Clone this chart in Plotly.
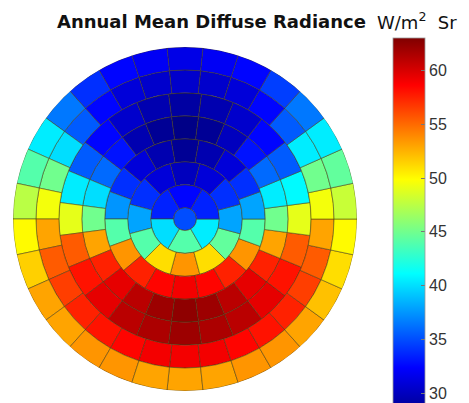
import plotly.graph_objects as go

# ---- data ----
title_text = "Annual Mean Diffuse Radiance"
unit_text = "W/m<sup>2</sup>&nbsp;&nbsp;Sr"

# zenith-angle band edges (degrees) of the Tregenza sky subdivision
zenith_edges = [0, 6, 18, 30, 42, 54, 66, 78, 90]

# patch values per band, index k at azimuth k*360/n measured from the bottom,
# going counter-clockwise (right side first)
cap_value = [35]
ring1 = [44, 40.5, 33.5, 32.5, 33.5, 40]
ring2 = [53.5, 51, 44.5, 38, 34, 31, 30, 31, 34, 38, 44, 51]
ring3 = [59, 58.5, 57.5, 53.5, 44, 38, 34, 31, 29.5, 28.5,
         29.5, 31, 34, 37.5, 44, 53.5, 57.5, 58.5]
ring4 = [62.5, 62, 61, 59.5, 57.5, 53, 45, 40.5, 36, 33, 30, 28.5, 28,
         28.5, 29.5, 33, 36, 40, 45, 53, 57.5, 59.5, 61, 62]
ring5 = [62, 61.5, 61, 59.5, 58, 55.5, 49, 41, 35.5, 32.5, 30.5, 29.5, 29,
         29.5, 30.5, 32.5, 35.5, 40.5, 49, 55.5, 58, 59.5, 61, 61.5]
ring6 = [59, 59, 58.5, 58, 57.5, 56.5, 55.5, 53, 49.5, 45, 40.5, 35.5, 32.5, 31, 30.5, 30.5,
         30.5, 31, 32.5, 35.5, 40, 45, 49.5, 53, 55.5, 56.5, 57.5, 58, 58.5, 59]
ring7 = [53, 53, 53.5, 53.5, 53, 52, 51, 50, 48, 44.5, 40.5, 36.5, 34.5, 32.5, 32, 31.5,
         32, 32.5, 34, 36.5, 40.5, 44, 47.5, 50, 51.5, 53, 53, 53.5, 53.5, 53]
rings = [cap_value, ring1, ring2, ring3, ring4, ring5, ring6, ring7]

colorbar_ticks = [30, 35, 40, 45, 50, 55, 60]
c_min, c_max = 28, 63

# Matlab-like jet colormap
jet = [[0.0, "rgb(0,0,135)"], [0.125, "rgb(0,0,255)"], [0.375, "rgb(0,255,255)"],
       [0.625, "rgb(255,255,0)"], [0.875, "rgb(255,0,0)"], [1.0, "rgb(128,0,0)"]]

W, H = 469, 403
fig = go.Figure()
for i, vals in enumerate(rings):
    n = len(vals)
    step = 360.0 / n
    fig.add_trace(go.Barpolar(
        r=[zenith_edges[i + 1] - zenith_edges[i]] * n,
        base=[zenith_edges[i]] * n,
        theta=[k * step for k in range(n)],
        width=[step] * n,
        marker=dict(
            color=vals, colorscale=jet, cmin=c_min, cmax=c_max,
            line=dict(color="rgba(70,60,20,0.65)", width=0.8),
            showscale=(i == 0),
            colorbar=dict(
                thickness=32, thicknessmode="pixels",
                len=(c_max - c_min) * 10.77, lenmode="pixels",
                x=393 / W, xanchor="left", xpad=0,
                y=1 - 38 / H, yanchor="top", ypad=0,
                tickvals=colorbar_ticks,
                tickfont=dict(family="Liberation Sans, Arial", size=16, color="#333"),
                ticks="inside", ticklen=4, tickcolor="#777",
                outlinewidth=0.8, outlinecolor="#999",
            ),
        ),
        hoverinfo="skip",
        showlegend=False,
    ))

fig.update_layout(
    width=W, height=H, autosize=False,
    margin=dict(l=0, r=0, t=0, b=0),
    paper_bgcolor="white",
    barmode="overlay",
    polar=dict(
        domain=dict(x=[13 / W, 357 / W], y=[1 - 391 / H, 1 - 47 / H]),
        bgcolor="white",
        bargap=0,
        radialaxis=dict(visible=False, range=[0, 90]),
        angularaxis=dict(visible=False, rotation=-90, direction="counterclockwise"),
    ),
    annotations=[
        dict(text="<b>" + title_text + "</b>", x=211 / W, y=1 - 22 / H,
             xref="paper", yref="paper", xanchor="center", yanchor="middle",
             showarrow=False, font=dict(family="DejaVu Sans", size=18, color="#111")),
        dict(text=unit_text, x=375 / W, y=1 - 21 / H,
             xref="paper", yref="paper", xanchor="left", yanchor="middle",
             showarrow=False, font=dict(family="DejaVu Sans", size=18, color="#111")),
    ],
)

fig.write_html(
    "out.html",
    config={"displayModeBar": False},
    post_script="document.body.style.margin='0';document.body.style.overflow='hidden';",
)
